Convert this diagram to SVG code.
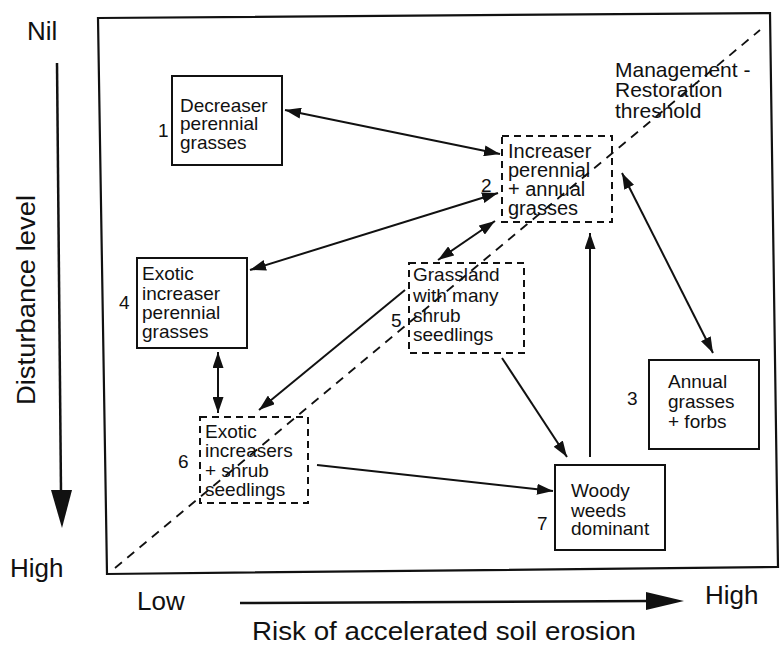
<svg xmlns="http://www.w3.org/2000/svg" width="781" height="650" viewBox="0 0 781 650">
<style>
text{font-family:"Liberation Sans",Arial,sans-serif;fill:#111}
.big{font-size:26px}
.nt{font-size:19px}
.num{font-size:19px}
.box{fill:none;stroke:#111;stroke-width:2}
.dbox{fill:none;stroke:#111;stroke-width:2;stroke-dasharray:7 5}
.c{fill:none;stroke:#111;stroke-width:2}
.one{marker-end:url(#ah)}
.two{marker-start:url(#ah);marker-end:url(#ah)}
</style>
<defs>
<marker id="ah" markerUnits="userSpaceOnUse" markerWidth="17" markerHeight="11" refX="16" refY="5.5" orient="auto-start-reverse">
<path d="M0,0 L16,5.5 L0,11 Z" fill="#111"/>
</marker>
</defs>
<rect width="781" height="650" fill="#fff"/>
<g id="frame">
<path d="M98,18 L770,13 L778,567 L107,574 Z" fill="none" stroke="#111" stroke-width="2.2"/>
<line x1="115" y1="568" x2="760" y2="30" stroke="#111" stroke-width="1.8" stroke-dasharray="9 7"/>
</g>
<g id="axes">
<text class="big" x="27" y="40">Nil</text>
<text class="big" x="10" y="577">High</text>
<line x1="57" y1="63" x2="61" y2="492" stroke="#111" stroke-width="2.5"/>
<path d="M51,490 L72,490 L62,528 Z" fill="#111"/>
<text class="big" transform="translate(35,405) rotate(-90)" textLength="210" lengthAdjust="spacingAndGlyphs">Disturbance level</text>
<text class="big" x="137" y="610">Low</text>
<line x1="240" y1="603" x2="650" y2="601" stroke="#111" stroke-width="2.5"/>
<path d="M646,592 L684,601 L646,610 Z" fill="#111"/>
<text class="big" x="705" y="604">High</text>
<text class="big" x="252" y="640" textLength="384" lengthAdjust="spacingAndGlyphs">Risk of accelerated soil erosion</text>
<text style="font-size:21px" x="615" y="77">Management -</text>
<text style="font-size:21px" x="615" y="97">Restoration</text>
<text style="font-size:21px" x="615" y="118">threshold</text>
</g>
<g id="connectors">
<line class="c two" x1="285" y1="110" x2="500" y2="154"/>
<line class="c two" x1="250" y1="270" x2="498" y2="193"/>
<line class="c two" x1="438" y1="260" x2="495" y2="221"/>
<line class="c one" x1="405" y1="290" x2="259" y2="410"/>
<line class="c two" x1="218" y1="352" x2="218" y2="413"/>
<line class="c one" x1="502" y1="358" x2="567" y2="457"/>
<line class="c one" x1="317" y1="465" x2="553" y2="491"/>
<line class="c one" x1="590" y1="457" x2="590" y2="233"/>
<line class="c two" x1="622" y1="173" x2="713" y2="353"/>
</g>
<g id="node1">
<rect class="box" x="172" y="76" width="110" height="89"/>
<text class="nt" x="180" y="112">Decreaser</text>
<text class="nt" x="180" y="130">perennial</text>
<text class="nt" x="180" y="149">grasses</text>
<text class="num" x="158" y="137">1</text>
</g>
<g id="node2">
<rect class="dbox" x="502" y="136" width="110" height="86"/>
<text class="nt" x="508" y="158" style="font-size:20px">Increaser</text>
<text class="nt" x="508" y="177" style="font-size:20px">perennial</text>
<text class="nt" x="508" y="196" style="font-size:20px">+ annual</text>
<text class="nt" x="508" y="215" style="font-size:20px">grasses</text>
<text class="num" x="481" y="192">2</text>
</g>
<g id="node3">
<rect class="box" x="649" y="360" width="110" height="89"/>
<text class="nt" x="668" y="388">Annual</text>
<text class="nt" x="668" y="408">grasses</text>
<text class="nt" x="668" y="428">+ forbs</text>
<text class="num" x="627" y="405">3</text>
</g>
<g id="node4">
<rect class="box" x="137" y="258" width="110" height="90"/>
<text class="nt" x="142" y="280">Exotic</text>
<text class="nt" x="142" y="300">increaser</text>
<text class="nt" x="142" y="319">perennial</text>
<text class="nt" x="142" y="338">grasses</text>
<text class="num" x="119" y="309">4</text>
</g>
<g id="node5">
<rect class="dbox" x="409" y="263" width="115" height="90"/>
<text class="nt" x="413" y="281">Grassland</text>
<text class="nt" x="413" y="302">with many</text>
<text class="nt" x="413" y="322">shrub</text>
<text class="nt" x="413" y="341">seedlings</text>
<text class="num" x="391" y="327">5</text>
</g>
<g id="node6">
<rect class="dbox" x="200" y="417" width="108" height="86"/>
<text class="nt" x="205" y="438">Exotic</text>
<text class="nt" x="205" y="457">increasers</text>
<text class="nt" x="205" y="477">+ shrub</text>
<text class="nt" x="205" y="496">seedlings</text>
<text class="num" x="178" y="468">6</text>
</g>
<g id="node7">
<rect class="box" x="555" y="465" width="110" height="85"/>
<text class="nt" x="571" y="497">Woody</text>
<text class="nt" x="571" y="517">weeds</text>
<text class="nt" x="571" y="535">dominant</text>
<text class="num" x="537" y="530">7</text>
</g>
</svg>
